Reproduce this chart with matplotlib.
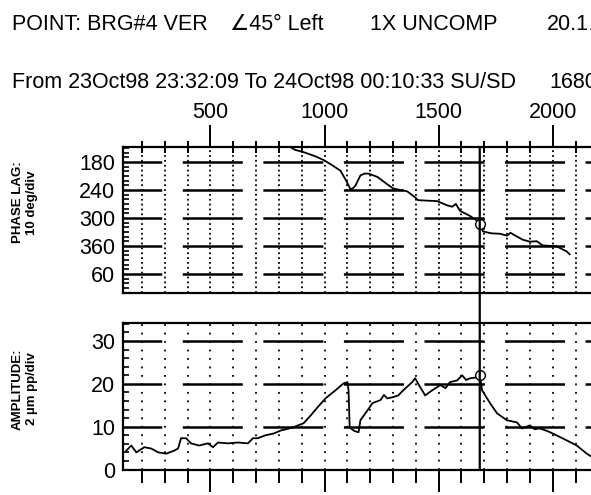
import numpy as np
import matplotlib
matplotlib.use("Agg")
import matplotlib.pyplot as plt
from matplotlib.patches import ConnectionPatch

# =========================
# 1. DATA
# =========================

# phase lag curve (rpm, deg)
phase_rpm = [850, 870, 908, 960, 996, 1030, 1070, 1092, 1114, 1125, 1135, 1157, 1175, 1192,
             1231, 1275, 1301, 1330, 1362, 1397, 1410, 1450, 1493, 1537, 1560, 1575, 1594,
             1638, 1668, 1681, 1694, 1730, 1769, 1799, 1815, 1843, 1870, 1900, 1930, 1956,
             2017, 2061, 2074]
phase_deg = [148, 154, 159, 168, 176, 186, 199, 218, 239, 236, 231, 209, 205, 205,
             212, 228, 237, 240, 243, 256, 262, 263, 264, 273, 276, 270, 285,
             296, 306, 313, 329, 333, 334, 338, 332, 340, 347, 351, 350, 359,
             361, 372, 378]

# amplitude curve (rpm, um pp)
amp_rpm = [131, 153, 175, 210, 240, 271, 306, 341, 358, 371, 393, 415, 450, 489, 511, 533,
           576, 620, 664, 686, 707, 742, 777, 808, 860, 908, 939, 969, 1004, 1048, 1083,
           1100, 1105, 1110, 1130, 1149, 1157, 1188, 1210, 1245, 1260, 1275, 1301, 1323,
           1345, 1384, 1397, 1419, 1441, 1472, 1507, 1530, 1550, 1581, 1603, 1620, 1638,
           1668, 1681, 1690, 1725, 1756, 1799, 1843, 1865, 1900, 1920, 1943, 1980, 2000,
           2061, 2105, 2149, 2170]
amp_um = [4.4, 5.6, 4.0, 5.2, 4.9, 4.0, 3.7, 4.4, 4.9, 7.3, 7.3, 6.1, 5.6, 6.1, 5.2, 6.3,
          6.1, 6.3, 6.1, 7.3, 7.3, 8.0, 8.4, 9.1, 9.8, 10.8, 12.6, 14.5, 16.6, 18.5, 20.1,
          20.4, 18.5, 9.8, 9.0, 8.7, 11.5, 13.8, 15.5, 16.2, 17.4, 16.6, 16.9, 17.3,
          18.5, 20.4, 21.3, 19.2, 17.3, 18.5, 19.7, 19.0, 20.4, 20.8, 22.0, 20.9, 21.3,
          21.5, 22.0, 18.5, 15.5, 13.1, 11.5, 11.0, 9.6, 10.3, 9.4, 9.6, 8.9, 8.4,
          6.8, 5.6, 3.7, 3.0]

cursor_rpm = 1680

phase_ticks = [180, 240, 300, 360, 420]
phase_labels = ["180", "240", "300", "360", "60"]
amp_ticks = [0, 10, 20, 30]
rpm_labels = [500, 1000, 1500, 2000]

# header texts and their left edge in pixels (last ones run off the right edge, as in the scan)
header1 = [("POINT: BRG#4 VER", 12), ("\u222045\u00b0 Left", 230),
           ("1X UNCOMP", 370), ("20.1\u2220", 547)]
header2 = [("From 23Oct98 23:32:09 To 24Oct98 00:10:33 SU/SD", 12), ("1680", 549)]

# =========================
# 2. STYLE
# =========================

plt.rcParams['font.family'] = ['Liberation Sans', 'DejaVu Sans']
plt.rcParams['lines.scale_dashes'] = False

XMIN, XMAX = 118, 2300
W, H = 591, 495
fig = plt.figure(figsize=(W / 100, H / 100), dpi=100)

ax_w = (XMAX - XMIN) * 0.2282 / W
ax1 = fig.add_axes([123.3 / W, (H - 293) / H, ax_w, 146 / H])
ax2 = fig.add_axes([123.3 / W, (H - 469.5) / H, ax_w, 146.5 / H])

# horizontal grid: long dashes with gaps (scan look)
hdash = (15.3, (43.2, 14.8))

for ax in (ax1, ax2):
    ax.set_xlim(XMIN, XMAX)
    for s in ax.spines.values():
        s.set_linewidth(1.6)
    for v in range(200, XMAX, 100):
        ax.axvline(v, color='black', lw=1.3,
                   ls=(0, (1.3, 2.2)) if ax is ax1 else (0, (1.3, 4.8)), zorder=1)

# =========================
# 3. PHASE
# =========================

ax1.set_ylim(461, 148)
for t in phase_ticks:
    ax1.axhline(t, color='black', lw=1.8, ls=hdash, zorder=1)
ax1.plot(phase_rpm, phase_deg, color='black', lw=1.3, zorder=3)
ax1.plot([cursor_rpm], [np.interp(cursor_rpm, phase_rpm, phase_deg)], 'o',
         ms=7, mfc='white', mec='black', mew=1.0, zorder=4)

ax1.set_yticks(phase_ticks, phase_labels)
ax1.set_yticks(range(150, 461, 10), minor=True)
ax1.set_xticks(rpm_labels)
ax1.set_xticks(range(200, XMAX, 100), minor=True)
ax1.xaxis.tick_top()
ax1.tick_params(axis='x', which='major', direction='out', length=16, width=1.4,
                pad=1, labelsize=15.5)
ax1.tick_params(axis='x', which='minor', direction='inout', length=8, width=1.4)
ax1.tick_params(axis='y', which='major', length=0, pad=6, labelsize=15.5)
ax1.tick_params(axis='y', which='minor', direction='in', length=4, width=1.2)
ax1.set_ylabel("PHASE LAG:\n10 deg/div", fontsize=9.5, fontweight='bold')
ax1.yaxis.set_label_coords(-0.172, 0.62)

# =========================
# 4. AMPLITUDE
# =========================

ax2.set_ylim(0, 34.2)
for t in amp_ticks[1:]:
    ax2.axhline(t, color='black', lw=1.8, ls=hdash, zorder=1)
ax2.plot(amp_rpm, amp_um, color='black', lw=1.3, zorder=3)
ax2.plot([cursor_rpm], [np.interp(cursor_rpm, amp_rpm, amp_um)], 'o',
         ms=7, mfc='white', mec='black', mew=1.0, zorder=4)

ax2.set_yticks(amp_ticks)
ax2.set_yticks(range(0, 35, 2), minor=True)
ax2.set_xticks(rpm_labels, [])
ax2.set_xticks(range(200, XMAX, 100), minor=True)
ax2.tick_params(axis='x', which='major', direction='out', length=16, width=1.4)
ax2.tick_params(axis='x', which='minor', direction='out', length=9, width=1.4)
ax2.tick_params(axis='y', which='major', length=0, pad=6, labelsize=15.5)
ax2.tick_params(axis='y', which='minor', direction='in', length=4, width=1.2)
ax2.set_ylabel("AMPLITUDE:\n2 \u00b5m pp/div", fontsize=9.5, fontweight='bold')
ax2.yaxis.set_label_coords(-0.172, 0.55)

# cursor line through both plots
cur = ConnectionPatch(xyA=(cursor_rpm, 148), coordsA=ax1.transData,
                      xyB=(cursor_rpm, 0), coordsB=ax2.transData,
                      color='black', lw=1.6, zorder=5)
fig.add_artist(cur)

# =========================
# 5. HEADER
# =========================

for txt, x in header1:
    fig.text(x / W, 1 - 24 / H, txt, fontsize=15.5, va='center', ha='left')
for txt, x in header2:
    fig.text(x / W, 1 - 83 / H, txt, fontsize=15.5, va='center', ha='left')

fig.savefig("out.png", dpi=100)
